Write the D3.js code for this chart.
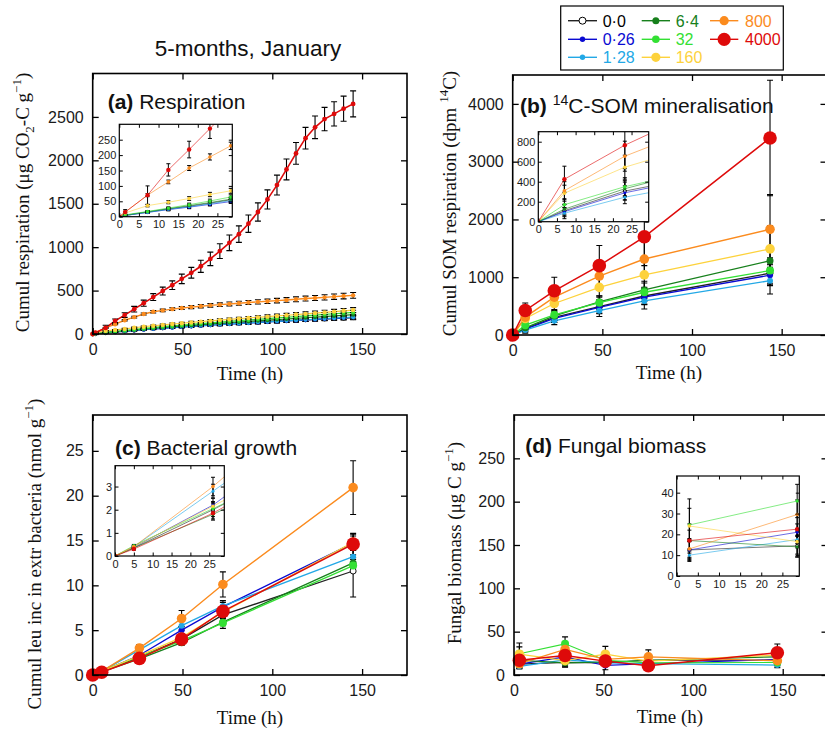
<!DOCTYPE html>
<html>
<head>
<meta charset="utf-8">
<script src="https://cdn.jsdelivr.net/npm/d3@7"></script>
<style>body{margin:0;background:#fff}</style>
</head>
<body>
<svg id="chart" width="825" height="731"></svg>
<script>
// series (glucose addition, µg C g-1)
const seriesNames = ['0·0', '0·26', '1·28', '6·4', '32', '160', '800', '4000'];
const seriesColors = ['#222222', '#0a0ad2', '#22a8e6', '#17801c', '#33e033', '#fdd23c', '#fb8b1e', '#de0a0a'];

// (a) respiration
const respTime = [0, 1.5, 7.2, 12.5, 17.8, 23.1, 28.4, 33.7, 39.0, 44.3, 49.6, 54.9, 60.2, 65.5, 70.8, 76.1, 81.4, 86.7, 92.0, 97.3, 102.6, 107.9, 113.2, 118.5, 123.8, 129.1, 134.4, 139.7, 145.0];
const respMean = [
  [0, 4, 15, 25, 34, 44, 55, 63, 71, 79, 86, 93, 100, 107, 113, 119, 125, 131, 137, 143, 148, 153, 158, 163, 168, 173, 178, 183, 188],
  [0, 4, 14, 23, 31, 40, 49, 57, 65, 73, 80, 87, 94, 101, 108, 114, 120, 126, 132, 138, 144, 150, 156, 162, 168, 174, 180, 186, 192],
  [0, 4, 14, 24, 32, 42, 52, 60, 68, 76, 83, 90, 97, 104, 110, 116, 122, 128, 134, 140, 146, 152, 158, 164, 170, 176, 182, 188, 194],
  [0, 5, 16, 26, 36, 46, 57, 66, 75, 84, 92, 100, 108, 116, 123, 131, 138, 145, 152, 159, 166, 173, 180, 187, 194, 201, 208, 215, 222],
  [0, 6, 17, 28, 39, 51, 64, 74, 84, 93, 102, 111, 120, 128, 137, 145, 153, 161, 169, 177, 185, 193, 201, 209, 217, 225, 233, 241, 249],
  [0, 12, 36, 47, 59, 72, 84, 95, 105, 115, 124, 133, 142, 151, 160, 168, 176, 184, 192, 200, 208, 216, 224, 232, 240, 249, 258, 267, 276],
  [0, 15, 70, 113, 158, 194, 230, 256, 272, 286, 299, 310, 320, 330, 338, 346, 354, 362, 370, 377, 384, 392, 400, 408, 415, 422, 430, 437, 445],
  [0, 15, 70, 152, 218, 286, 355, 425, 495, 562, 635, 705, 780, 865, 955, 1050, 1150, 1270, 1405, 1550, 1715, 1895, 2080, 2255, 2380, 2475, 2535, 2595, 2650]
];
const respErr = [
  [0, 2, 3, 4, 5, 6, 7, 8, 9, 10, 10, 11, 12, 12, 13, 14, 14, 15, 16, 16, 17, 17, 18, 19, 19, 20, 20, 21, 22],
  [0, 2, 3, 4, 5, 5, 6, 7, 8, 9, 10, 10, 11, 12, 12, 13, 14, 14, 15, 15, 16, 17, 17, 18, 18, 19, 20, 20, 21],
  [0, 2, 3, 4, 5, 6, 6, 7, 8, 9, 10, 11, 11, 12, 13, 13, 14, 15, 15, 16, 16, 17, 18, 18, 19, 19, 20, 21, 21],
  [0, 2, 3, 4, 5, 6, 7, 8, 9, 10, 11, 11, 12, 13, 14, 14, 15, 16, 17, 17, 18, 19, 19, 20, 21, 21, 22, 23, 24],
  [0, 2, 3, 4, 5, 6, 7, 8, 9, 10, 11, 12, 13, 13, 14, 15, 16, 17, 17, 18, 19, 20, 20, 21, 22, 22, 23, 24, 25],
  [0, 3, 4, 5, 6, 7, 8, 9, 10, 11, 12, 13, 14, 15, 16, 16, 17, 18, 19, 20, 21, 21, 22, 23, 24, 25, 26, 27, 28],
  [0, 3, 5, 6, 8, 10, 12, 14, 15, 16, 17, 18, 19, 20, 21, 22, 23, 23, 24, 25, 26, 27, 28, 28, 29, 30, 31, 32, 33],
  [0, 8, 30, 20, 27, 32, 35, 40, 45, 50, 55, 62, 70, 78, 85, 90, 95, 100, 105, 110, 115, 120, 125, 125, 130, 135, 140, 145, 150]
];

// (b) 14C-SOM mineralisation
const somTime = [0, 7, 23.2, 48.3, 73.4, 143.5];
const somMean = [
  [0, 110, 306, 490, 675, 1069],
  [0, 100, 289, 480, 655, 1035],
  [0, 85, 245, 420, 590, 940],
  [0, 125, 330, 575, 780, 1285],
  [0, 170, 350, 560, 740, 1115],
  [0, 285, 545, 825, 1040, 1490],
  [0, 310, 655, 1020, 1315, 1830],
  [0, 425, 765, 1200, 1700, 3410]
];
const somErr = [
  [0, 60, 90, 120, 150, 200],
  [0, 40, 70, 100, 120, 180],
  [0, 55, 65, 100, 140, 230],
  [0, 50, 80, 100, 150, 200],
  [0, 60, 90, 120, 160, 220],
  [0, 80, 120, 170, 250, 400],
  [0, 90, 150, 200, 300, 600],
  [0, 130, 235, 350, 500, 1000]
];

// (c) bacterial growth
const leuTime = [0, 5, 26, 49.5, 72.5, 145];
const leuMean = [
  [0, 0.35, 2.0, 4.0, 6.7, 11.6],
  [0, 0.38, 2.2, 5.0, 7.6, 14.7],
  [0, 0.4, 2.8, 5.5, 7.7, 13.2],
  [0, 0.35, 1.8, 3.6, 5.9, 12.5],
  [0, 0.45, 2.05, 3.8, 5.8, 12.2],
  [0, 0.4, 2.15, 4.2, 7.0, 14.8],
  [0, 0.4, 3.0, 6.3, 10.1, 20.9],
  [0, 0.3, 1.85, 4.0, 7.1, 14.6]
];
const leuErr = [
  [0, 0.05, 0.3, 0.4, 0.6, 2.9],
  [0, 0.05, 0.3, 0.4, 0.5, 0.8],
  [0, 0.05, 0.3, 0.5, 0.6, 0.8],
  [0, 0.05, 0.2, 0.3, 0.4, 0.6],
  [0, 0.05, 0.2, 0.3, 0.6, 0.7],
  [0, 0.05, 0.2, 0.3, 0.5, 0.9],
  [0, 0.05, 0.4, 0.9, 1.4, 3.0],
  [0, 0.05, 0.3, 0.4, 0.6, 1.2]
];

// (d) fungal biomass
const fungTime = [3, 28.5, 51, 75, 147];
const fungMean = [
  [12.5, 14.5, 14, 17, 17],
  [12.5, 21, 11, 13, 18],
  [10, 17.5, 14, 13, 11.5],
  [17, 14, 15, 17, 21],
  [24.5, 36, 17, 14, 14.5],
  [24, 16.5, 24, 16, 23],
  [13, 29.5, 18, 21, 16.5],
  [17, 22.5, 16, 10.7, 25.7]
];
const fungErr = [
  [5, 5, 4, 4, 4],
  [4, 4, 5, 3, 4],
  [3, 4, 3, 3, 3],
  [5, 5, 4, 4, 4],
  [8, 8, 5, 4, 4],
  [13, 6, 9, 5, 6],
  [5, 7, 6, 8, 5],
  [8, 7, 6, 4, 10]
];

// tick labels
const xTicksMain = [0, 50, 100, 150];
const xTicksInset = [0, 5, 10, 15, 20, 25];
const respTicks = [0, 500, 1000, 1500, 2000, 2500];
const somTicks = [0, 1000, 2000, 3000, 4000];
const leuTicks = [0, 5, 10, 15, 20, 25];
const fungTicks = [0, 50, 100, 150, 200, 250];
const respInsetTicks = [0, 50, 100, 150, 200, 250];
const somInsetTicks = [0, 200, 400, 600, 800];
const leuInsetTicks = [0, 1, 2, 3];
const fungInsetTicks = [0, 10, 20, 30, 40];

const SANS = 'Liberation Sans, Arial, Helvetica, sans-serif';
const SERIF = 'Liberation Serif, Times New Roman, serif';
const svg = d3.select('#chart');

function drawTxt(g, x, y, txt, size, family, anchor = 'start', fill = '#000', weight = 'normal') {
  return g.append('text')
    .attr('x', x)
    .attr('y', y)
    .attr('font-size', size)
    .attr('font-family', family)
    .attr('font-weight', weight)
    .attr('fill', fill)
    .style('text-anchor', anchor)
    .text(txt);
}

function drawAxes(g, x, y, xTicks, yTicks, o) {
  const [left, right] = x.range();
  const [bottom, top] = y.range();
  const fmt = d => String(d);
  g.append('rect')
    .attr('x', left).attr('y', top)
    .attr('width', right - left).attr('height', bottom - top)
    .attr('fill', o.fill || 'none')
    .attr('stroke', '#000')
    .attr('stroke-width', o.frameW);
  const axes = [
    g.append('g').attr('transform', `translate(0,${bottom})`)
      .call(d3.axisBottom(x).tickValues(xTicks).tickFormat(fmt).tickSizeInner(-o.tick).tickSizeOuter(0).tickPadding(o.padX)),
    g.append('g').attr('transform', `translate(0,${top})`)
      .call(d3.axisTop(x).tickValues(xTicks).tickSizeInner(-o.tick).tickSizeOuter(0).tickFormat('')),
    g.append('g').attr('transform', `translate(${left},0)`)
      .call(d3.axisLeft(y).tickValues(yTicks).tickFormat(fmt).tickSizeInner(-o.tick).tickSizeOuter(0).tickPadding(o.padY)),
    g.append('g').attr('transform', `translate(${right},0)`)
      .call(d3.axisRight(y).tickValues(yTicks).tickSizeInner(-o.tick).tickSizeOuter(0).tickFormat(''))
  ];
  axes.forEach(a => {
    a.select('.domain').remove();
    a.selectAll('line').attr('stroke', '#000').attr('stroke-width', o.tickW);
    a.selectAll('text').attr('font-size', o.fs).attr('font-family', SANS).attr('fill', '#1a1a1a');
  });
}

function drawSeries(g, x, y, times, mean, err, o) {
  const line = d3.line().x(d => x(d[0])).y(d => y(d[1]));
  mean.forEach((v, i) => {
    g.append('path')
      .attr('d', line(times.map((t, j) => [t, v[j]])))
      .attr('fill', 'none')
      .attr('stroke', seriesColors[i])
      .attr('stroke-width', o.lw[i])
      .attr('opacity', o.op);
  });
  mean.forEach((v, i) => {
    times.forEach((t, j) => {
      const e = err[i][j];
      if (!e) return;
      const cx = x(t), ya = y(v[j] + e), yb = y(v[j] - e);
      g.append('path')
        .attr('d', `M${cx},${ya}V${yb}M${cx - o.cap},${ya}H${cx + o.cap}M${cx - o.cap},${yb}H${cx + o.cap}`)
        .attr('stroke', '#000')
        .attr('stroke-width', o.ew)
        .attr('fill', 'none');
    });
  });
  mean.forEach((v, i) => {
    times.forEach((t, j) => {
      g.append('circle')
        .attr('cx', x(t)).attr('cy', y(v[j]))
        .attr('r', o.r[i])
        .attr('fill', i === 0 ? '#fff' : seriesColors[i])
        .attr('stroke', i === 0 ? '#000' : 'none')
        .attr('stroke-width', 0.9);
    });
  });
}

const bigR = [3, 3, 3, 3.5, 4, 4.8, 4.8, 6.8];
const smallR = [2, 2, 2, 2, 2, 2.2, 2.2, 2.4];
const insetR = [1.5, 1.5, 1.5, 1.6, 1.7, 1.8, 1.8, 2.2];

const panels = [
  { box: [92.7, 407, 73.5, 334], yDom: [0, 3000], yTicks: respTicks, times: respTime, mean: respMean, err: respErr,
    r: smallR, lw: [1.2, 1.2, 1.2, 1.2, 1.2, 1.2, 1.4, 1.6], cap: 3,
    inset: { box: [119.3, 232.3, 124.3, 216.7], xDom: [0, 28.8], yDom: [0, 300], yTicks: respInsetTicks } },
  { box: [512.7, 826.5, 75, 335], yDom: [0, 4500], yTicks: somTicks, times: somTime, mean: somMean, err: somErr,
    r: bigR, lw: [1.3, 1.3, 1.3, 1.3, 1.3, 1.3, 1.4, 1.5], cap: 3,
    inset: { box: [538.3, 648.7, 131.7, 221.7], xDom: [0, 29.6], yDom: [0, 900], yTicks: somInsetTicks } },
  { box: [92.7, 407, 415, 675], yDom: [0, 29], yTicks: leuTicks, times: leuTime, mean: leuMean, err: leuErr,
    r: bigR, lw: [1.3, 1.3, 1.3, 1.3, 1.3, 1.3, 1.4, 1.5], cap: 3,
    inset: { box: [115, 224.3, 465.7, 556], xDom: [0, 29], yDom: [0, 3.9], yTicks: leuInsetTicks } },
  { box: [514, 827.5, 415, 675], yDom: [0, 300], yTicks: fungTicks, times: fungTime, mean: fungMean, err: fungErr,
    r: bigR, lw: [1.2, 1.2, 1.2, 1.2, 1.2, 1.2, 1.3, 1.4], cap: 3,
    inset: { box: [676.7, 799.3, 476, 576], xDom: [0, 29], yDom: [0, 48], yTicks: fungInsetTicks } }
];

panels.forEach((p, k) => {
  const g = svg.append('g');
  const x = d3.scaleLinear().domain([0, 175]).range([p.box[0], p.box[1]]);
  const y = d3.scaleLinear().domain(p.yDom).range([p.box[3], p.box[2]]);
  drawSeries(g, x, y, p.times, p.mean, p.err, { lw: p.lw, op: 1, r: p.r, cap: p.cap, ew: 1.1 });
  drawAxes(g, x, y, xTicksMain, p.yTicks, { frameW: 1.6, tick: 6, tickW: 1.3, fs: 16, padX: 10, padY: 9 });

  // inset
  const b = p.inset.box;
  const gi = svg.append('g');
  const xi = d3.scaleLinear().domain(p.inset.xDom).range([b[0], b[1]]);
  const yi = d3.scaleLinear().domain(p.inset.yDom).range([b[3], b[2]]);
  gi.append('rect').attr('x', b[0]).attr('y', b[2]).attr('width', b[1] - b[0]).attr('height', b[3] - b[2]).attr('fill', '#fff');
  const clipId = 'clip' + k;
  gi.append('clipPath').attr('id', clipId)
    .append('rect').attr('x', b[0]).attr('y', b[2]).attr('width', b[1] - b[0]).attr('height', b[3] - b[2]);
  const gs = gi.append('g').attr('clip-path', `url(#${clipId})`);
  drawSeries(gs, xi, yi, p.times, p.mean, p.err, { lw: seriesColors.map(() => 1), op: 0.6, r: insetR, cap: 2, ew: 1 });
  drawAxes(gi, xi, yi, xTicksInset, p.inset.yTicks, { frameW: 1.2, tick: 3.5, tickW: 1, fs: 11, padX: 4, padY: 3 });
});

// title
drawTxt(svg, 248, 56, '5-months, January', 22.5, SANS, 'middle', '#111');

// panel labels
function panelLabel(x, y, letter, parts) {
  const t = svg.append('text').attr('x', x).attr('y', y).attr('font-size', 21).attr('font-family', SANS).attr('fill', '#111');
  t.append('tspan').attr('font-weight', 'bold').text(letter);
  parts.forEach(s => {
    if (s.sup) t.append('tspan').attr('font-size', 14).attr('dy', -8).text(s.sup);
    else t.append('tspan').attr('dy', s.dy || 0).text(s.text);
  });
}
panelLabel(107.7, 109, '(a)', [{ text: ' Respiration' }]);
panelLabel(520, 113, '(b)', [{ text: ' ' }, { sup: '14' }, { text: 'C-SOM mineralisation', dy: 8 }]);
panelLabel(115, 455, '(c)', [{ text: ' Bacterial growth' }]);
panelLabel(525.3, 452.5, '(d)', [{ text: ' Fungal biomass' }]);

// axis titles
[[250, 380], [669, 379], [250, 724], [670, 723]].forEach(d => drawTxt(svg, d[0], d[1], 'Time (h)', 19, SERIF, 'middle', '#111'));

function yTitle(x, y, parts) {
  const t = svg.append('text')
    .attr('transform', `translate(${x},${y}) rotate(-90)`)
    .attr('font-size', 19).attr('font-family', SERIF).attr('fill', '#111')
    .style('text-anchor', 'middle');
  parts.forEach(s => {
    const ts = t.append('tspan').text(s.t);
    if (s.sub) ts.attr('font-size', 13).attr('dy', 5);
    if (s.sup) ts.attr('font-size', 13).attr('dy', -8);
    if (s.back) ts.attr('dy', s.back);
  });
}
yTitle(28.5, 202.5, [{ t: 'Cumul respiration (μg CO' }, { t: '2', sub: true }, { t: '-C g', back: -5 }, { t: '−1', sup: true }, { t: ')', back: 8 }]);
yTitle(456, 203.5, [{ t: 'Cumul SOM respiration (dpm ' }, { t: '14', sup: true }, { t: 'C)', back: 8 }]);
yTitle(40.5, 554, [{ t: 'Cumul leu inc in extr bacteria (nmol g' }, { t: '−1', sup: true }, { t: ')', back: 8 }]);
yTitle(460.5, 543, [{ t: 'Fungal biomass (μg C g' }, { t: '−1', sup: true }, { t: ')', back: 8 }]);

// legend
const legendR = [3.5, 2.7, 2.7, 3.5, 3.8, 4.6, 4.6, 6.6];
const legCols = [[568, 597, 602.7], [641.7, 670, 675.7], [710, 738.3, 745]];
const legRows = [20.7, 39.3, 57.3];
svg.append('rect').attr('x', 560.7).attr('y', 6).attr('width', 222.6).attr('height', 64)
  .attr('fill', '#fff').attr('stroke', '#000').attr('stroke-width', 1.2);
seriesNames.forEach((name, i) => {
  const c = legCols[Math.floor(i / 3)], ry = legRows[i % 3];
  svg.append('line').attr('x1', c[0]).attr('x2', c[1]).attr('y1', ry).attr('y2', ry)
    .attr('stroke', seriesColors[i]).attr('stroke-width', 1.4);
  svg.append('circle').attr('cx', (c[0] + c[1]) / 2).attr('cy', ry).attr('r', legendR[i])
    .attr('fill', i === 0 ? '#fff' : seriesColors[i])
    .attr('stroke', i === 0 ? '#000' : 'none');
  drawTxt(svg, c[2], ry + 5.8, name, 16, SANS, 'start', i === 0 ? '#000' : seriesColors[i]);
});
</script>
</body>
</html>
